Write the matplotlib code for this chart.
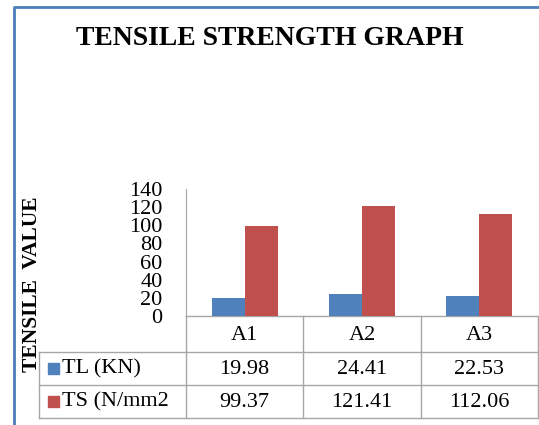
import matplotlib
matplotlib.use('Agg')
import matplotlib.pyplot as plt
import numpy as np

plt.rcParams['font.family'] = ['Liberation Serif', 'DejaVu Serif']

categories = ['A1', 'A2', 'A3']
series_names = ['TL (KN)', 'TS (N/mm2']
tl_values = [19.98, 24.41, 22.53]
ts_values = [99.37, 121.41, 112.06]
y_ticks = [0, 20, 40, 60, 80, 100, 120, 140]

BLUE = '#4F81BD'
RED = '#C0504D'
GRID = '#A6A6A6'

W, H = 539, 425
fig = plt.figure(figsize=(W / 100, H / 100), dpi=100)

# pixel-coordinate overlay for border, labels, table
bg = fig.add_axes([0, 0, 1, 1])
bg.set_xlim(0, W)
bg.set_ylim(H, 0)
bg.axis('off')

# outer frame (cut off at right/bottom)
bg.plot([14, 14, W + 5], [H + 5, 7, 7], color='#4A7EBB', lw=2, solid_capstyle='butt')

bg.text(270, 38, 'TENSILE STRENGTH GRAPH', ha='center', va='center',
        fontsize=20, fontweight='bold')
bg.text(32, 284, 'TENSILE  VALUE', ha='center', va='center', rotation=90,
        fontsize=15.5, fontweight='bold')

# bar plot area
x0, x1, y_top, y_zero = 186, 538, 189, 316
ax = fig.add_axes([x0 / W, 1 - y_zero / H, (x1 - x0) / W, (y_zero - y_top) / H])
x = np.arange(len(categories))
bw = 0.28
ax.bar(x - bw / 2, tl_values, bw, color=BLUE)
ax.bar(x + bw / 2, ts_values, bw, color=RED)
ax.set_xlim(-0.5, len(categories) - 0.5)
ax.set_ylim(0, 140)
ax.set_yticks(y_ticks)
ax.set_xticks([])
ax.tick_params(axis='y', length=0, pad=17, labelsize=16)
for s in ['top', 'right', 'bottom']:
    ax.spines[s].set_visible(False)
ax.spines['left'].set_color(GRID)
ax.patch.set_alpha(0)

# data table under the chart
t_left = 39
rows_y = [316, 352, 385, 418]
col_w = (x1 - x0) / len(categories)
cols = [x0 + i * col_w for i in range(len(categories) + 1)]
lk = dict(color=GRID, lw=1)
bg.plot([x0, x1], [rows_y[0], rows_y[0]], **lk)
for yy in rows_y[1:]:
    bg.plot([t_left, x1], [yy, yy], **lk)
bg.plot([t_left, t_left], [rows_y[1], rows_y[3]], **lk)
for cx in cols:
    bg.plot([cx, cx], [rows_y[0], rows_y[3]], **lk)

for i, cat in enumerate(categories):
    cx = (cols[i] + cols[i + 1]) / 2
    bg.text(cx, (rows_y[0] + rows_y[1]) / 2 + 2, cat, ha='center', va='center', fontsize=16)

for r, (name, vals, col) in enumerate([(series_names[0], tl_values, BLUE),
                                       (series_names[1], ts_values, RED)]):
    yc = (rows_y[r + 1] + rows_y[r + 2]) / 2
    bg.add_patch(plt.Rectangle((48, yc - 6), 11, 11, color=col))
    bg.text(62, yc, name, ha='left', va='center', fontsize=16)
    for i, v in enumerate(vals):
        cx = (cols[i] + cols[i + 1]) / 2
        bg.text(cx, yc + 1, f'{v:.2f}', ha='center', va='center', fontsize=16)

fig.savefig('out.png', dpi=100)
